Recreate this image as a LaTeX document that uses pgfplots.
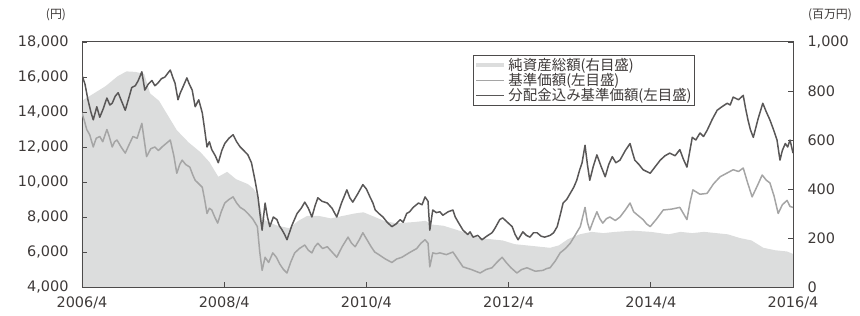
\documentclass[border=0pt]{standalone}
\usepackage{pgfplots}
\pgfplotsset{compat=1.18}
\usepackage{fontspec}
\setmainfont{DejaVu Sans}
\newfontfamily\cjk{Noto Sans CJK JP}
\definecolor{areagray}{HTML}{DCDDDD}
\definecolor{navgray}{HTML}{A5A5A5}
\definecolor{darkline}{HTML}{595757}
\definecolor{axisgray}{HTML}{4D4B4B}
\definecolor{labelgray}{HTML}{3E3A39}

\pgfplotstableread{
m v
0 760
2 790
4 820
6 860
7.5 880
9 878
10.5 870
11.5 790
13 760
14.5 700
16 640
18 590
20 550
21.5 510
23 450
24.5 470
26 440
28 420
29 400
29.7 370
30.4 290
31 270
33 250
35 240
36.5 270
38 290
40 290
42 280
44 290
46 300
47.5 305
49 290
51 270
53 260
56 265
58 270
59 255
61 250
63 235
65 220
67 200
69 195
71 190
73 175
75 170
77 165
79 160
80.5 170
82 195
84 215
86 225
88 220
90 225
93 230
96 225
99 215
101 225
103 220
105 225
107 220
109 215
111 200
113 190
115 160
117 150
119 145
120 135
}\netassets

\pgfplotstableread{
m v
0 13950
0.4 13500
0.8 13000
1.3 12700
1.9 12000
2.4 12500
3.0 12600
3.5 12300
4.2 13000
4.6 12600
5.1 12000
5.5 12300
5.9 12400
6.6 12000
7.3 11650
7.9 12100
8.6 12600
9.3 12500
10.1 13350
10.5 12400
10.9 11450
11.6 11900
12.3 12000
12.9 11800
13.5 12000
14.2 12200
14.9 12400
15.5 11500
16.0 10500
16.5 11000
16.9 11250
17.5 11000
18.2 10850
18.7 10400
19.1 10100
19.7 9900
20.3 9700
20.7 9000
21.1 8200
21.5 8500
21.9 8400
22.4 8000
22.9 7650
23.5 8300
24.1 8800
24.8 9000
25.5 9150
26.1 8800
26.7 8550
27.4 8400
28.0 8200
28.8 7900
29.6 7450
30.0 6000
30.4 4950
30.9 5700
31.5 5400
32.2 5950
32.8 5700
33.4 5300
34.0 5000
34.6 4800
35.2 5400
35.9 5950
36.7 6200
37.6 6400
38.2 6100
38.8 5950
39.3 6300
39.8 6500
40.6 6200
41.4 6300
42.2 6000
43.0 5700
43.9 6300
44.9 6850
45.5 6500
46.1 6300
46.8 6700
47.4 7100
48.1 6700
48.8 6300
49.4 6000
50.1 5850
51.2 5600
52.3 5400
53.1 5600
54.0 5700
55.2 5950
56.5 6200
57.2 6500
57.9 6700
58.4 6500
58.7 5150
59.2 5950
59.8 5900
60.4 5950
61.5 5850
62.6 6000
63.4 5600
64.3 5150
65.7 5000
67.2 4800
68.2 5000
69.2 5100
70.0 5400
70.9 5700
71.6 5400
72.4 5100
73.4 4800
74.2 5000
75.1 5100
76.5 4900
77.8 4950
78.4 5050
79.0 5100
79.9 5500
80.7 5950
81.6 6200
82.4 6500
83.3 7000
84.1 7450
84.5 8000
84.9 8550
85.3 7700
85.7 7250
86.3 7800
86.9 8300
87.4 7900
87.9 7650
88.5 7900
89.1 8000
90.0 7800
90.8 8000
91.7 8400
92.5 8800
93.1 8300
93.8 8100
94.7 7850
95.3 7600
95.9 7450
97.0 7900
98.1 8400
99.5 8450
100.9 8550
101.5 8200
102.1 7850
102.6 8800
103.1 9550
104.3 9300
105.5 9350
106.6 9900
107.7 10300
108.8 10500
109.9 10700
110.8 10600
111.6 10800
112.3 10000
113.1 9150
114.0 9800
114.8 10400
115.5 10100
116.1 9950
116.8 9200
117.5 8200
118.2 8700
119.0 8950
119.5 8600
120 8550
}\nav

\pgfplotstableread{
m v
0 16100
0.5 15600
1.0 14700
1.5 14000
1.9 13550
2.5 14300
3.0 13700
3.6 14200
4.2 14800
4.7 14400
5.1 14500
5.6 14900
6.1 15100
6.7 14600
7.3 14100
7.9 14800
8.4 15400
9.0 15500
9.5 15800
10.1 16300
10.6 15250
11.2 15600
11.8 15800
12.3 15500
12.8 15650
13.4 15900
14.0 16000
14.9 16400
15.3 16000
15.7 15650
16.2 14700
16.6 15100
17.0 15400
17.7 15950
18.1 15600
18.6 15250
19.1 14300
19.7 14700
20.3 13950
20.7 13000
21.1 12000
21.5 12300
21.9 11850
22.5 11500
23.0 11100
23.6 11800
24.1 12200
24.8 12500
25.5 12700
26.1 12300
26.7 12000
27.3 11800
28.0 11550
28.6 11100
29.2 10100
29.7 9150
30.1 8000
30.4 7250
30.9 8800
31.3 8000
31.7 7450
32.3 8000
32.9 7850
33.3 7500
33.7 7300
34.2 7000
34.6 6700
35.0 7100
35.4 7500
36.3 8200
37.0 8500
37.6 8850
38.2 8500
38.8 8000
39.3 8600
39.8 9100
40.5 8900
41.4 8800
42.2 8500
43.0 8000
43.4 8400
43.8 8800
44.7 9550
45.2 9100
45.7 8850
46.5 9300
47.4 9850
48.0 9600
48.6 9150
49.1 8800
49.5 8400
50.1 8200
50.8 8000
51.5 7700
52.3 7450
53.0 7600
53.7 7850
54.2 7700
54.8 8200
55.3 8300
55.9 8550
56.8 8800
57.4 8700
57.9 9150
58.4 8900
58.7 7250
59.2 8400
59.8 8250
60.4 8300
60.9 8100
61.8 8300
62.6 8400
63.0 8000
63.5 7700
64.3 7250
65.1 7000
65.5 7150
66.0 6850
66.8 6950
67.5 6700
68.3 6900
69.2 7100
69.6 7300
70.1 7600
70.5 7850
71.0 7950
71.8 7700
72.6 7450
73.1 7000
73.6 6700
74.4 7150
75.0 6950
75.6 6850
76.2 7100
76.8 7100
77.5 6900
78.1 6850
79.0 6950
79.6 7100
80.2 7450
80.7 8100
81.2 8800
81.8 9000
82.4 9350
83.0 9700
83.5 10100
84.0 10700
84.4 11100
84.9 12100
85.3 11000
85.7 10100
86.3 10900
86.9 11550
87.6 10900
88.3 10300
88.9 11000
89.5 11450
90.1 11100
90.8 11250
91.7 11800
92.5 12200
92.9 11700
93.3 11250
94.0 11000
94.7 10700
95.3 10600
95.9 10500
96.8 10900
97.6 11250
98.4 11500
99.2 11650
100.1 11500
100.9 11850
101.5 11300
102.1 10850
102.6 11800
103.0 12550
103.6 12400
104.3 12800
104.9 12600
105.5 12950
106.4 13600
107.2 14100
108.0 14300
108.9 14500
109.4 14400
109.9 14850
110.8 14700
111.6 14950
112.0 14200
112.4 13550
112.8 13000
113.3 12550
114.1 13600
114.9 14500
115.5 14000
116.1 13550
116.7 13000
117.3 12400
117.8 11250
118.2 11800
118.7 12200
119.1 12000
119.5 12400
120 11650
}\navdiv

\begin{document}
\begin{tikzpicture}
\path[use as bounding box] (-82bp,-29bp) rectangle (778bp,287bp);
\pgfplotsset{
  base/.style={
    width=711bp, height=245bp, scale only axis,
    xmin=0, xmax=120,
    axis line style={axisgray, line width=1pt},
    tick style={axisgray, line width=0.9pt},
    tick align=inside,
    major tick length=5bp,
    tick label style={font=\fontsize{14.5}{16}\selectfont, text=labelgray},
    /pgf/number format/assume math mode=true,
    /pgf/number format/1000 sep={,},
    /pgf/number format/fixed,
    scaled y ticks=false,
  }
}
\begin{axis}[base, at={(0,0)}, anchor=south west,
  ymin=0, ymax=1000, ytick={0,200,...,1000}, ytick pos=right,
  xtick={0,24,48,72,96,120},
  xticklabels={2006/4,2008/4,2010/4,2012/4,2014/4,2016/4},
  xtick pos=bottom,
  axis on top,
  yticklabel style={xshift=11bp},
  xticklabel style={yshift=-6bp},
]
\addplot[fill=areagray, draw=none] table[x=m, y=v] {\netassets} \closedcycle;
\end{axis}
\begin{axis}[base, at={(0,0)}, anchor=south west,
  ymin=4000, ymax=18000, ytick={4000,6000,...,18000}, ytick pos=left,
  xtick=\empty,
  yticklabel style={xshift=-10bp},
  legend cell align=left,
  legend style={at={(rel axis cs:0.55,0.947)}, anchor=north west,
    draw=axisgray, line width=0.9pt, fill=white,
    font=\cjk\fontsize{14.5}{15}\selectfont, text=labelgray,
    inner sep=1bp, row sep=-2.5bp,
    legend image code/.code={\draw[##1] (0bp,0bp) -- (28bp,0bp);}},
]
\addlegendimage{areagray, line width=4pt}
\addlegendentry{純資産総額(右目盛)}
\addplot[navgray, line width=1.5pt, line join=round] table[x=m, y=v] {\nav};
\addlegendentry{基準価額(左目盛)}
\addplot[darkline, line width=1.5pt, line join=round] table[x=m, y=v] {\navdiv};
\addlegendentry{分配金込み基準価額(左目盛)}
\end{axis}
\node[font=\cjk\fontsize{12}{13}\selectfont, text=labelgray] at (-26bp,272bp) {(円)};
\node[font=\cjk\fontsize{12}{13}\selectfont, text=labelgray] at (748bp,272bp) {(百万円)};
\end{tikzpicture}
\end{document}
